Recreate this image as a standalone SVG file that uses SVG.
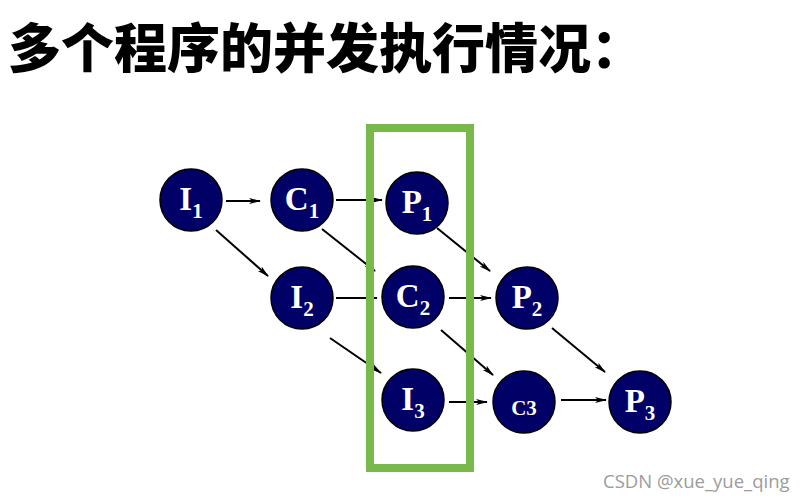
<svg xmlns="http://www.w3.org/2000/svg" width="812" height="502" viewBox="0 0 812 502">
<style>
.title{font-family:"Noto Sans CJK SC","Noto Sans",sans-serif;font-weight:900;font-size:53px;fill:#000}
.node circle{fill:#000066;stroke:#000;stroke-width:1.5}
.node text{font-family:"Liberation Serif","Times New Roman",serif;font-weight:bold;fill:#fff;text-anchor:middle}
.main{font-size:33px}
.sub{font-size:21px}
.edge{stroke:#000;stroke-width:2;fill:none;marker-end:url(#ah)}
.wm{font-family:"Open Sans","Noto Sans",sans-serif;font-size:18.5px;fill:#9c9c9c}
</style>
<defs>
<marker id="ah" markerWidth="12" markerHeight="8" refX="11" refY="4" orient="auto" markerUnits="userSpaceOnUse">
<path d="M0,1 L12,4 L0,7 L3,4 Z" fill="#000"/>
</marker>
</defs>
<rect width="812" height="502" fill="#fff"/>
<text class="title" x="8" y="68">多个程序的并发执行情况：</text>

<g id="connectors">
<line class="edge" x1="226" y1="201" x2="260" y2="201"/>
<line class="edge" x1="336" y1="200" x2="382" y2="200"/>
<line class="edge" x1="216" y1="230" x2="268" y2="276"/>
<line class="edge" x1="322" y1="229" x2="375" y2="271"/>
<line class="edge" x1="437" y1="228" x2="490" y2="271"/>
<line class="edge" x1="336" y1="298" x2="377" y2="298"/>
<line class="edge" x1="449" y1="298" x2="491" y2="298"/>
<line class="edge" x1="330" y1="338" x2="381" y2="373"/>
<line class="edge" x1="441" y1="330" x2="493" y2="375"/>
<line class="edge" x1="552" y1="328" x2="605" y2="372"/>
<line class="edge" x1="449" y1="402" x2="487" y2="402"/>
<line class="edge" x1="561" y1="400" x2="606" y2="400"/>
</g>

<rect x="370" y="128" width="100" height="340" fill="none" stroke="#79b84b" stroke-width="8"/>

<g id="I1" class="node"><circle cx="191" cy="200" r="31"/><text x="191" y="210"><tspan class="main">I</tspan><tspan class="sub" dy="8">1</tspan></text></g>
<g id="C1" class="node"><circle cx="302" cy="200" r="31"/><text x="302" y="210"><tspan class="main">C</tspan><tspan class="sub" dy="8">1</tspan></text></g>
<g id="P1" class="node"><circle cx="417" cy="203" r="31"/><text x="417" y="213"><tspan class="main">P</tspan><tspan class="sub" dy="8">1</tspan></text></g>
<g id="I2" class="node"><circle cx="302" cy="298" r="31"/><text x="302" y="308"><tspan class="main">I</tspan><tspan class="sub" dy="8">2</tspan></text></g>
<g id="C2" class="node"><circle cx="413" cy="297" r="31"/><text x="413" y="307"><tspan class="main">C</tspan><tspan class="sub" dy="8">2</tspan></text></g>
<g id="P2" class="node"><circle cx="527" cy="298" r="31"/><text x="527" y="308"><tspan class="main">P</tspan><tspan class="sub" dy="8">2</tspan></text></g>
<g id="I3" class="node"><circle cx="413" cy="400" r="31"/><text x="413" y="410"><tspan class="main">I</tspan><tspan class="sub" dy="8">3</tspan></text></g>
<g id="C3" class="node"><circle cx="524" cy="402" r="31"/><text x="524" y="415" class="sub">C3</text></g>
<g id="P3" class="node"><circle cx="640" cy="402" r="31"/><text x="640" y="412"><tspan class="main">P</tspan><tspan class="sub" dy="8">3</tspan></text></g>

<text class="wm" x="603" y="488">CSDN @xue_yue_qing</text>
</svg>
